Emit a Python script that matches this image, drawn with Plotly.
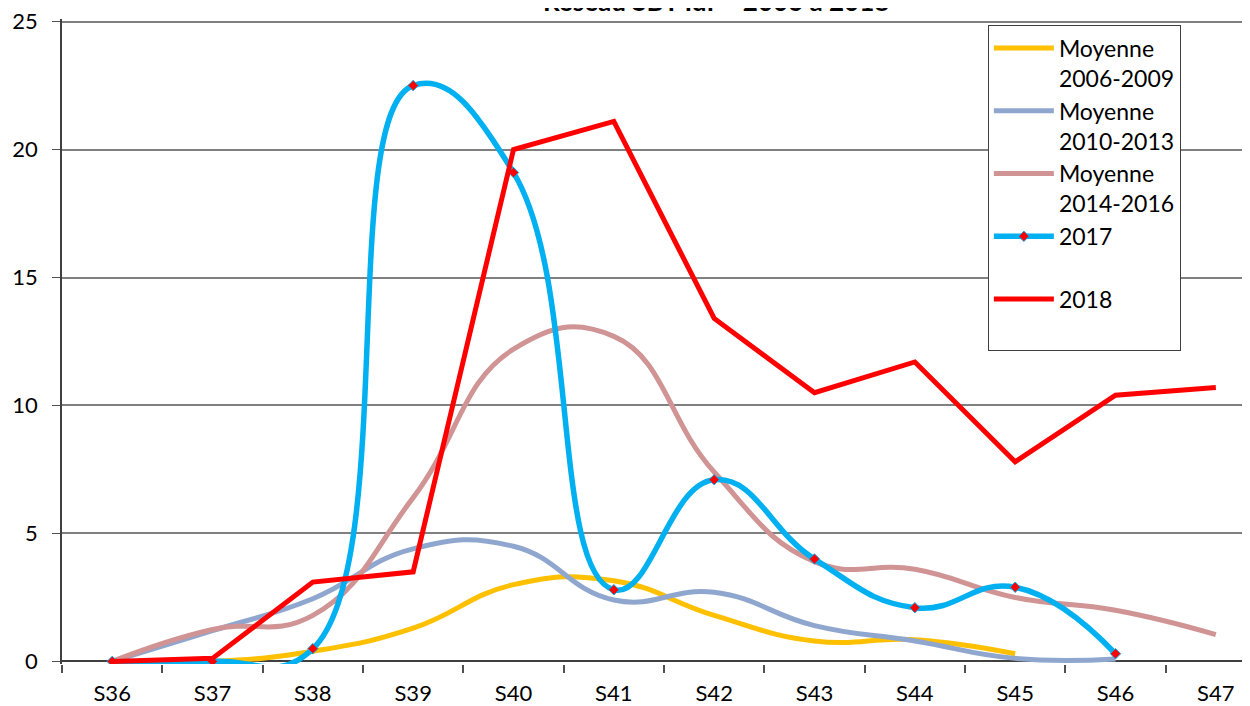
import plotly.graph_objects as go

# Data

weeks = ["S36", "S37", "S38", "S39", "S40", "S41",
         "S42", "S43", "S44", "S45", "S46", "S47"]

moy_2006_2009 = [0.0, 0.0, 0.4, 1.3, 3.0, 3.15, 1.8, 0.8, 0.85, 0.3, None, None]
moy_2010_2013 = [0.0, 1.2, 2.45, 4.4, 4.5, 2.4, 2.7, 1.4, 0.8, 0.12, 0.1, None]
moy_2014_2016 = [0.0, 1.25, 1.8, 6.4, 12.2, 12.7, 7.4, 3.9, 3.6, 2.5, 2.0, 1.05]
val_2017 = [0.0, 0.0, 0.5, 22.5, 19.1, 2.8, 7.1, 4.0, 2.1, 2.9, 0.3, None]
val_2018 = [0.0, 0.12, 3.1, 3.5, 20.0, 21.1, 13.4, 10.5, 11.7, 7.8, 10.4, 10.7]

tick_vals = [0, 5, 10, 15, 20, 25]

FONT = "Lato"


def smooth_line(name, values, color, width=5):
    return go.Scatter(
        x=weeks,
        y=values,
        name=name,
        mode="lines",
        line=dict(color=color, width=width, shape="spline", smoothing=1.3),
    )


fig = go.Figure()

fig.add_trace(smooth_line("Moyenne<br>2006-2009", moy_2006_2009, "#FFC000"))
fig.add_trace(smooth_line("Moyenne<br>2010-2013", moy_2010_2013, "#8FA7CF"))
fig.add_trace(smooth_line("Moyenne<br>2014-2016", moy_2014_2016, "#D09494"))

fig.add_trace(go.Scatter(
    x=weeks,
    y=val_2017,
    name="2017<br>&nbsp;",
    mode="lines+markers",
    line=dict(color="#00B0F0", width=5.5, shape="spline", smoothing=1.3),
    marker=dict(symbol="diamond", size=8, color="#FF0000",
                line=dict(color="#00B0F0", width=1)),
))

fig.add_trace(go.Scatter(
    x=weeks,
    y=val_2018,
    name="2018<br>&nbsp;",
    mode="lines",
    line=dict(color="#FF0000", width=5),
))

# Title sits mostly above the visible area, as in the reference
fig.add_annotation(
    text="<b>Réseau SBT IdF - 2006 à 2018</b>",
    xref="paper", yref="paper",
    x=0.543, y=1,
    xanchor="center", yanchor="bottom",
    yshift=0,
    showarrow=False,
    font=dict(family=FONT, size=26, color="#000000"),
)

fig.update_layout(
    width=1258,
    height=698,
    margin=dict(l=54, r=0, t=11, b=42),
    plot_bgcolor="#FFFFFF",
    paper_bgcolor="#FFFFFF",
    font=dict(family=FONT, size=22, color="#000000"),
    showlegend=True,
    legend=dict(
        x=0.769, y=0.99,
        xanchor="left", yanchor="top",
        bgcolor="#FFFFFF",
        bordercolor="#404040",
        borderwidth=1,
        font=dict(family=FONT, size=23, color="#000000"),
        valign="top",
        itemwidth=60,
        traceorder="normal",
    ),
    xaxis=dict(
        type="category",
        range=[-0.5, 11.5],
        tickson="boundaries",
        ticks="outside",
        ticklen=8,
        tickcolor="#505050",
        tickwidth=1.5,
        showgrid=False,
        showline=False,
        ticklabelstandoff=14,
    ),
    yaxis=dict(
        range=[-0.1, 25.1],
        tickvals=tick_vals,
        ticks="outside",
        ticklen=8,
        tickcolor="#505050",
        showgrid=True,
        gridcolor="#808080",
        gridwidth=1.5,
        zeroline=True,
        zerolinecolor="#404040",
        zerolinewidth=2,
        showline=True,
        linecolor="#404040",
        linewidth=1.5,
        ticklabelstandoff=10,
        ticklabeloverflow="allow",
    ),
)

fig.write_html("out.html")
